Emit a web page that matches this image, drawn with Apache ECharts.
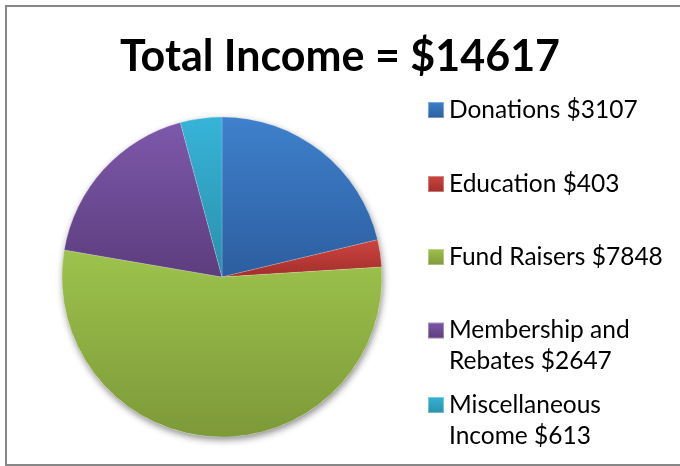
<!DOCTYPE html>
<html>
<head>
<meta charset="utf-8">
<script src="https://cdn.jsdelivr.net/npm/echarts@6/dist/echarts.min.js"></script>
<style>
html,body{margin:0;padding:0;background:#fff;}
#chart{width:680px;height:466px;}
</style>
</head>
<body>
<div id="chart"></div>
<script>
// ---- data ----
const titleText = 'Total Income = $14617';
const categories = ['Donations', 'Education', 'Fund Raisers', 'Membership and Rebates', 'Miscellaneous Income'];
const values = [3107, 403, 7848, 2647, 613];
const legendLabels = ['Donations $3107', 'Education $403', 'Fund Raisers $7848', 'Membership and\nRebates $2647', 'Miscellaneous\nIncome $613'];

// ---- styles ----
const gradients = [
  ['#3F80CC', '#2C5E9F'],
  ['#CC4540', '#A32E2B'],
  ['#9DC34C', '#7D9939'],
  ['#7E58AB', '#5C3D7D'],
  ['#36B4D8', '#2A8FAB']
];
const legendCenters = [110, 184, 257, 330.5, 405];
const lineH = 31;

function grad(c) {
  return {type: 'linear', x: 0, y: 0, x2: 0, y2: 1,
    colorStops: [{offset: 0, color: c[0]}, {offset: 1, color: c[1]}]};
}

const chart = echarts.init(document.getElementById('chart'), null, {renderer: 'canvas'});

const legends = categories.map(function (name, i) {
  const multi = legendLabels[i].indexOf('\n') >= 0;
  return {
    data: [name],
    orient: 'vertical',
    left: 427,
    top: multi ? legendCenters[i] - 1.5 * lineH : legendCenters[i] - 0.5 * lineH,
    padding: 0,
    itemWidth: 16,
    itemHeight: 16,
    icon: 'rect',
    selectedMode: false,
    // a blank first line keeps the marker level with the first text line
    formatter: function () { return multi ? '\n' + legendLabels[i] : legendLabels[i]; },
    textStyle: {
      fontFamily: 'Lato',
      fontSize: 24.5,
      color: '#000',
      lineHeight: lineH
    }
  };
});

chart.setOption({
  animation: false,
  title: {
    text: titleText,
    left: 'center',
    top: 31,
    textStyle: {fontFamily: 'Lato', fontWeight: 'bold', fontSize: 43, color: '#000'}
  },
  legend: legends,
  graphic: [{
    type: 'rect',
    silent: true,
    shape: {x: 6, y: 6, width: 700, height: 459},
    style: {fill: 'none', stroke: '#878787', lineWidth: 2}
  }],
  series: [
    {
      type: 'pie',
      silent: true,
      z: 1,
      center: [222, 277],
      radius: 160,
      label: {show: false},
      labelLine: {show: false},
      emphasis: {disabled: true},
      tooltip: {show: false},
      data: [{value: 1, name: '_shadow', itemStyle: {color: '#ffffff', shadowBlur: 7, shadowOffsetX: 1, shadowOffsetY: 3, shadowColor: 'rgba(0,0,0,0.45)'}}]
    },
    {
      type: 'pie',
      z: 2,
      center: [222, 277],
      radius: 160,
      startAngle: 90,
      clockwise: true,
      label: {show: false},
      labelLine: {show: false},
      emphasis: {scale: false},
      itemStyle: {borderColor: 'rgba(255,255,255,0.35)', borderWidth: 0.5},
      data: categories.map(function (name, i) {
        return {name: name, value: values[i], itemStyle: {color: grad(gradients[i])}};
      })
    }
  ]
});
</script>
</body>
</html>
